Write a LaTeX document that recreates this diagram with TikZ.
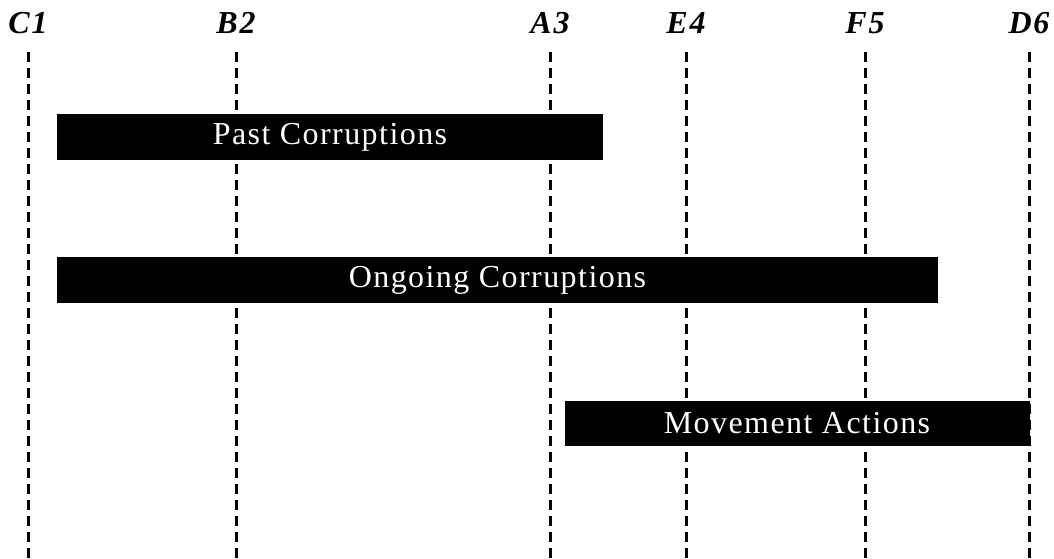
\documentclass[tikz,border=0pt]{standalone}
\usepackage{fontspec}
\setmainfont{Liberation Serif}
\begin{document}
\begin{tikzpicture}[x=1pt,y=-1pt,
  guide/.style={line width=3pt,dash pattern=on 10pt off 6pt},
  phase/.style={fill=black,draw=none},
  phaselabel/.style={text=white,font=\fontsize{32}{36}\selectfont\addfontfeatures{LetterSpace=4.5}},
  marker/.style={font=\fontsize{32}{36}\selectfont\bfseries\itshape\addfontfeatures{LetterSpace=6},anchor=base}]
\useasboundingbox (0,0) rectangle (1054,558);
% vertical guide lines with their markers
\foreach \nm/\lbl/\xx in {c/C1/28, b/B2/236, a/A3/550, e/E4/686, f/F5/865, d/D6/1029}{
  \node[marker] (m\nm) at (\xx,33) {\lbl};
  \coordinate (t\nm) at (\xx,52);
  \coordinate (u\nm) at (\xx,558);
  \draw[guide] (t\nm) -- (u\nm);
}
% phase bars
\fill[phase] (57,114) rectangle (603,160);
\node[phaselabel] (past) at (330,137) {Past Corruptions};
\fill[phase] (57,257) rectangle (938,303);
\node[phaselabel] (ongoing) at (497.5,280) {Ongoing Corruptions};
\fill[phase] (565,401) rectangle (1030,446);
\node[phaselabel] (movement) at (797,423.5) {Movement Actions};
\end{tikzpicture}
\end{document}
